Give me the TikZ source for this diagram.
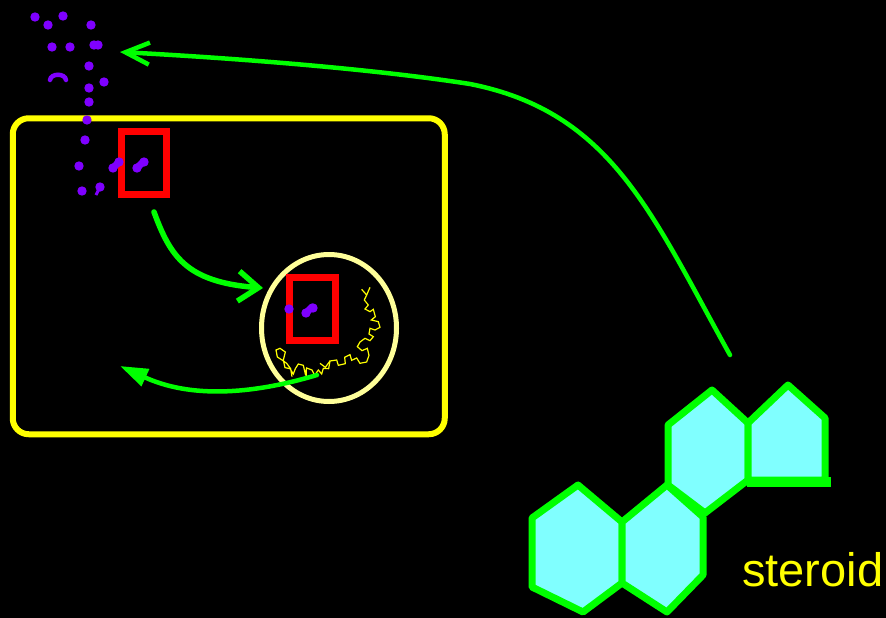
\documentclass[tikz,border=0pt]{standalone}
\usepackage{fontspec}
\setmainfont{Liberation Sans}
\usetikzlibrary{arrows.meta,shapes.geometric}
\definecolor{wallyellow}{RGB}{255,255,0}
\definecolor{nucyellow}{RGB}{255,255,153}
\definecolor{signalgreen}{RGB}{0,255,0}
\definecolor{hormoneviolet}{RGB}{127,0,255}
\definecolor{ringcyan}{RGB}{128,255,255}
\begin{document}
\begin{tikzpicture}[x=1pt,y=-1pt,
  cellwall/.style={rectangle, draw=wallyellow, line width=6pt, rounded corners=16pt,
    minimum width=432pt, minimum height=316pt, inner sep=0pt, outer sep=0pt},
  nucleusring/.style={ellipse, draw=nucyellow, line width=5pt,
    minimum width=135pt, minimum height=147pt, inner sep=0pt, outer sep=0pt},
  receptor/.style={rectangle, draw=red, line width=6.5pt, inner sep=0pt, outer sep=0pt},
  signal/.style={draw=signalgreen, line cap=round, line join=round},
  ring/.style={fill=ringcyan, draw=signalgreen, line width=7pt, line join=round},
  dot/.style={fill=hormoneviolet}
]
% black ground
\fill[black] (0,0) rectangle (886,618);
\useasboundingbox (0,0) rectangle (886,618);

% cell, nucleus and receptors
\node[cellwall] (cell) at (228.75,276.25) {};
\node[nucleusring] (nucleus) at (329,328) {};
\node[receptor, minimum width=45pt, minimum height=63pt] (rfree) at (144,163) {};
\node[receptor, minimum width=46pt, minimum height=63pt] (rbound) at (312.5,309) {};

% chromatin strand inside the nucleus (drawn on a 1/3 pt grid)
\begin{scope}[shift={(270,280)}, x=0.3333pt, y=-0.3333pt]
\draw[wallyellow, line width=1.2pt, line join=miter]
  (275,28) -- (290,45) -- (300,22);
\draw[wallyellow, line width=1.2pt, line join=miter]
  plot coordinates {(290,45) (283,60) (295,75) (285,87) (300,95) (310,88) (316,110)
   (304,120) (325,125) (330,142) (315,150) (300,145) (297,162) (310,170) (300,182)
   (285,175) (270,186) (262,200) (276,212) (292,205) (297,226) (290,246) (270,250)
   (260,234) (245,241) (240,224) (224,232) (226,251) (205,256) (200,240) (180,243)
   (176,266) (160,265) (155,282) (145,270) (134,286) (126,270) (110,264) (106,282)
   (100,256) (85,252) (76,266) (70,282) (60,266) (45,263) (40,240) (46,216)
   (30,205) (18,210) (22,231) (36,240) (50,250) (62,266) (66,290)};
\draw[wallyellow, line width=1.2pt] (110,264) -- (110,290);
\draw[wallyellow, line width=1.2pt] (150,250) -- (166,262) -- (180,243);
\end{scope}

% hormone molecules
\foreach \px/\py in {35/17, 63/16, 48/25, 91/25, 52/47, 70/47, 94/45, 98/45, 89/66,
    104/82, 89/88, 89/102, 87/120, 85/140, 79/166, 82/191, 100/187,
    113/168, 119/162, 137/168, 144/162, 289/309, 306/313, 313/308}
  \fill[dot] (\px,\py) circle (4.7pt);
\draw[hormoneviolet, line width=3pt] (100,187) -- (96,195);
\draw[hormoneviolet, line width=4.5pt, line cap=round]
  (50,80) .. controls (51,73) and (65,73) .. (66,80);
\foreach \a/\b in {113/168, 137/168, 306/313}
  \draw[hormoneviolet, line width=7pt, line cap=round] (\a,\b) -- ++(6,-6);

% connector ends
\coordinate (steroidtop) at (730,355);
\coordinate (entry) at (120,52);
\coordinate (rstart) at (154,212);
\coordinate (nin) at (263,288);
\coordinate (nout) at (317,375);
\coordinate (cytoend) at (120,366);

% signalling arrows
\draw[signal, line width=4.5pt, -{Straight Barb[length=24pt,width=22pt,line width=4.5pt]}]
  (steroidtop) .. controls (652,215) and (612,112) .. (470,84)
  .. controls (380,70) and (250,59) .. (entry);
\draw[signal, line width=5.5pt, -{Straight Barb[length=20pt,width=30pt,line width=5.5pt]}]
  (rstart) .. controls (170,255) and (185,282) .. (nin);
\draw[signal, line width=4.5pt, -{Triangle[length=28pt,width=18pt]}]
  (nout) .. controls (250,395) and (190,398) .. (cytoend);

% steroid skeleton
\filldraw[ring] (578,485) -- (622,522) -- (622,583) -- (583,612) -- (532,587) -- (532,518) -- cycle;
\filldraw[ring] (667,485) -- (703,517) -- (703,575) -- (667,612) -- (622,583) -- (622,522) -- cycle;
\filldraw[ring] (712,390) -- (748,423) -- (748,480) -- (705,513) -- (668,485) -- (668,425) -- cycle;
\filldraw[ring] (788,385) -- (825,418) -- (825,480) -- (748,480) -- (748,423) -- cycle;
\draw[signalgreen, line width=10pt] (747,482) -- (831,482);

\node[anchor=base west, inner sep=0pt, text=wallyellow,
  font=\fontsize{47}{50}\selectfont] (label) at (742,586) {steroid};
\end{tikzpicture}
\end{document}
